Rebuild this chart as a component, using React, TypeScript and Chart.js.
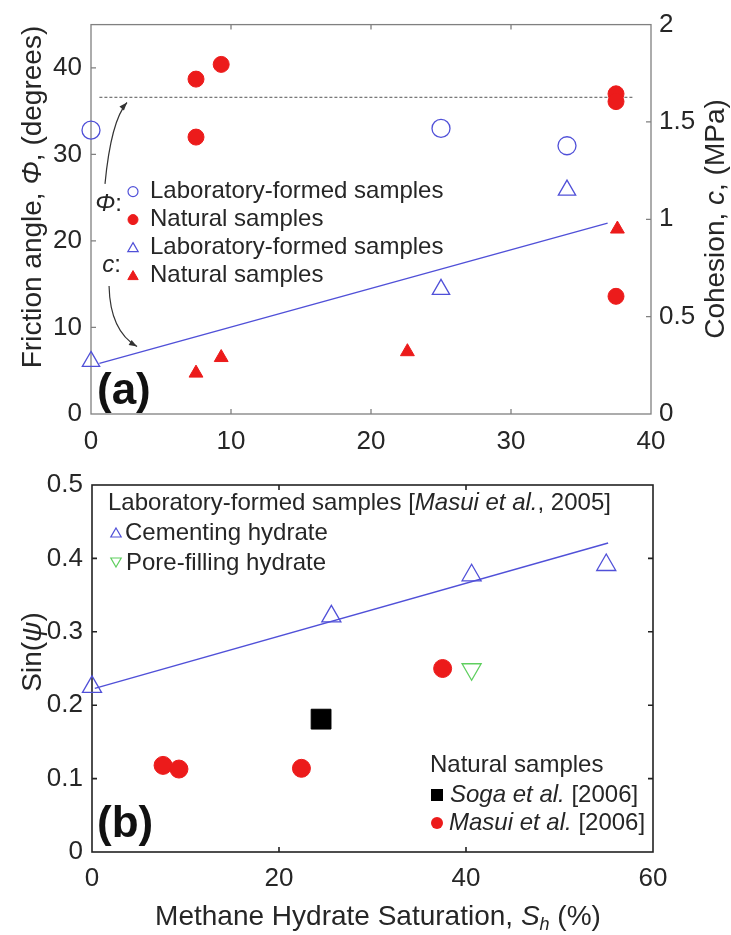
import React, { useEffect, useRef } from 'react';
import { Chart, registerables } from 'chart.js';

Chart.register(...registerables);

// ---------------- Panel (a) data ----------------
const A_X_TICKS = [0, 10, 20, 30, 40];
const A_X_LABELS = ['0', '10', '20', '30', '40'];
const A_PHI_TICKS = [0, 10, 20, 30, 40];
const A_PHI_LABELS = ['0', '10', '20', '30', '40'];
const A_C_TICKS = [0, 0.5, 1, 1.5, 2];
const A_C_LABELS = ['0', '0.5', '1', '1.5', '2'];

const A_PHI_LAB_X = [0, 25, 34];
const A_PHI_LAB_Y = [32.8, 33.0, 31.0];
const A_PHI_NAT_X = [7.5, 9.3, 7.5, 37.5, 37.5, 37.5];
const A_PHI_NAT_Y = [38.7, 40.4, 32.0, 37.0, 36.1, 13.6];
const A_C_LAB_X = [0, 25, 34];
const A_C_LAB_Y = [0.27, 0.64, 1.15];
const A_C_NAT_X = [7.5, 9.3, 22.6, 37.6];
const A_C_NAT_Y = [0.21, 0.29, 0.32, 0.95];
const A_PHI_REF_X = [0.6, 38.7];
const A_PHI_REF_Y = [36.6, 36.6];
const A_C_FIT_X = [0.6, 36.9];
const A_C_FIT_Y = [0.26, 0.98];

// ---------------- Panel (b) data ----------------
const B_X_TICKS = [0, 20, 40, 60];
const B_X_LABELS = ['0', '20', '40', '60'];
const B_Y_TICKS = [0, 0.1, 0.2, 0.3, 0.4, 0.5];
const B_Y_LABELS = ['0', '0.1', '0.2', '0.3', '0.4', '0.5'];

const B_CEM_X = [0, 25.6, 40.6, 55];
const B_CEM_Y = [0.225, 0.321, 0.377, 0.391];
const B_FIT_X = [0.3, 55.2];
const B_FIT_Y = [0.223, 0.421];
const B_PORE_X = [40.6];
const B_PORE_Y = [0.249];
const B_SOGA_X = [24.5];
const B_SOGA_Y = [0.181];
const B_MASUI_X = [7.6, 9.3, 22.4, 37.5];
const B_MASUI_Y = [0.118, 0.113, 0.114, 0.25];

// ---------------- styles ----------------
const FONT = '"Liberation Sans", Arial, Helvetica, sans-serif';
const BLUE = '#5050d8';
const RED = '#ec1b1b';
const GREEN = '#5fcf5f';
const TXT = '#262626';

const pts = (xs: number[], ys: number[]) => xs.map((x, i) => ({ x, y: ys[i] }));

type Part = { t: string; it?: boolean; bold?: boolean; sub?: boolean };

function partFont(p: Part, size: number) {
  const s = p.sub ? Math.round(size * 0.65) : size;
  return `${p.it ? 'italic ' : ''}${p.bold ? 'bold ' : ''}${s}px ${FONT}`;
}

function drawRich(ctx: CanvasRenderingContext2D, parts: Part[], x: number, y: number, size: number, align: 'left' | 'center' | 'right', color = TXT) {
  ctx.save();
  ctx.textBaseline = 'middle';
  ctx.textAlign = 'left';
  ctx.fillStyle = color;
  const widths = parts.map((p) => {
    ctx.font = partFont(p, size);
    return ctx.measureText(p.t).width;
  });
  const total = widths.reduce((a, b) => a + b, 0);
  let cx = align === 'left' ? x : align === 'center' ? x - total / 2 : x - total;
  parts.forEach((p, i) => {
    ctx.font = partFont(p, size);
    ctx.fillText(p.t, cx, p.sub ? y + size * 0.3 : y);
    cx += widths[i];
  });
  ctx.restore();
}

function drawRotated(ctx: CanvasRenderingContext2D, parts: Part[], x: number, y: number, size: number) {
  ctx.save();
  ctx.translate(x, y);
  ctx.rotate(-Math.PI / 2);
  drawRich(ctx, parts, 0, 0, size, 'center');
  ctx.restore();
}

function marker(ctx: CanvasRenderingContext2D, kind: string, x: number, y: number, r: number, fill: string | null, stroke: string | null, lw = 1.2) {
  ctx.save();
  ctx.beginPath();
  if (kind === 'circle') ctx.arc(x, y, r, 0, Math.PI * 2);
  else if (kind === 'tri' || kind === 'triDown') {
    const s = kind === 'tri' ? 1 : -1;
    for (let k = 0; k < 3; k++) {
      const ang = (k * 2 * Math.PI) / 3;
      const px = x + Math.sin(ang) * r;
      const py = y - s * Math.cos(ang) * r;
      if (k) ctx.lineTo(px, py);
      else ctx.moveTo(px, py);
    }
    ctx.closePath();
  } else if (kind === 'square') ctx.rect(x - r, y - r, 2 * r, 2 * r);
  if (fill) {
    ctx.fillStyle = fill;
    ctx.fill();
  }
  if (stroke) {
    ctx.strokeStyle = stroke;
    ctx.lineWidth = lw;
    ctx.stroke();
  }
  ctx.restore();
}

function drawFrame(chart: any, color: string, lw: number, xIn: number[], leftId: string, leftIn: number[], rightId: string, rightIn: number[], len: number) {
  const { ctx, chartArea: a } = chart;
  ctx.save();
  ctx.strokeStyle = color;
  ctx.lineWidth = lw;
  ctx.strokeRect(a.left, a.top, a.right - a.left, a.bottom - a.top);
  ctx.beginPath();
  xIn.forEach((v) => {
    const px = chart.scales.x.getPixelForValue(v);
    ctx.moveTo(px, a.bottom);
    ctx.lineTo(px, a.bottom - len);
    ctx.moveTo(px, a.top);
    ctx.lineTo(px, a.top + len);
  });
  leftIn.forEach((v) => {
    const py = chart.scales[leftId].getPixelForValue(v);
    ctx.moveTo(a.left, py);
    ctx.lineTo(a.left + len, py);
  });
  rightIn.forEach((v) => {
    const py = chart.scales[rightId].getPixelForValue(v);
    ctx.moveTo(a.right, py);
    ctx.lineTo(a.right - len, py);
  });
  ctx.stroke();
  ctx.restore();
}

function arrow(ctx: CanvasRenderingContext2D, p0: number[], c: number[], p1: number[]) {
  ctx.save();
  ctx.strokeStyle = '#333';
  ctx.fillStyle = '#333';
  ctx.lineWidth = 1.2;
  ctx.beginPath();
  ctx.moveTo(p0[0], p0[1]);
  ctx.quadraticCurveTo(c[0], c[1], p1[0], p1[1]);
  ctx.stroke();
  const ang = Math.atan2(p1[1] - c[1], p1[0] - c[0]);
  const L = 8;
  const W = 3;
  ctx.beginPath();
  ctx.moveTo(p1[0], p1[1]);
  ctx.lineTo(p1[0] - L * Math.cos(ang) + W * Math.sin(ang), p1[1] - L * Math.sin(ang) - W * Math.cos(ang));
  ctx.lineTo(p1[0] - L * Math.cos(ang) - W * Math.sin(ang), p1[1] - L * Math.sin(ang) + W * Math.cos(ang));
  ctx.closePath();
  ctx.fill();
  ctx.restore();
}

const inner = (arr: number[]) => arr.slice(1, -1);

const tickFont = { size: 26, family: FONT };

function configA(): any {
  const plugin = {
    id: 'panelA',
    beforeDatasetsDraw(chart: any) {
      drawFrame(chart, '#808080', 1.3, inner(A_X_TICKS), 'y', A_PHI_TICKS.slice(1), 'y2', inner(A_C_TICKS), 5);
    },
    afterDraw(chart: any) {
      const { ctx, chartArea: a } = chart;
      const sx = chart.scales.x;
      const sy = chart.scales.y;
      const P = (x: number, y: number) => [sx.getPixelForValue(x), sy.getPixelForValue(y)];
      // arrows
      arrow(ctx, P(1.0, 26.6), P(1.43, 33.9), P(2.57, 36.0));
      arrow(ctx, P(1.29, 14.8), P(1.36, 9.6), P(3.29, 7.8));
      // legend
      const mx = a.left + 42;
      const tx = a.left + 59;
      const rows = [167, 195, 223, 251].map((d) => a.top + d);
      marker(ctx, 'circle', mx, rows[0], 5, null, BLUE, 1.2);
      marker(ctx, 'circle', mx, rows[1], 5, RED, RED, 1);
      marker(ctx, 'tri', mx, rows[2] + 1, 6, null, BLUE, 1.2);
      marker(ctx, 'tri', mx, rows[3] + 1, 6, RED, RED, 1);
      drawRich(ctx, [{ t: 'Laboratory-formed samples' }], tx, rows[0], 24, 'left');
      drawRich(ctx, [{ t: 'Natural samples' }], tx, rows[1], 24, 'left');
      drawRich(ctx, [{ t: 'Laboratory-formed samples' }], tx, rows[2], 24, 'left');
      drawRich(ctx, [{ t: 'Natural samples' }], tx, rows[3], 24, 'left');
      drawRich(ctx, [{ t: 'Φ', it: true }, { t: ':' }], a.left + 31, a.top + 180, 24, 'right');
      drawRich(ctx, [{ t: 'c', it: true }, { t: ':' }], a.left + 30, a.top + 241, 24, 'right');
      // panel tag
      drawRich(ctx, [{ t: '(a)', bold: true }], a.left + 6, a.top + 367, 44, 'left', '#111');
      // axis titles
      drawRotated(ctx, [{ t: 'Friction angle, ' }, { t: 'Φ', it: true }, { t: ', (degrees)' }], 33, 197, 28);
      drawRotated(ctx, [{ t: 'Cohesion, ' }, { t: 'c', it: true }, { t: ', (MPa)' }], 716, 219, 28);
    },
  };
  return {
    type: 'scatter',
    data: {
      datasets: [
        { label: 'Φ lab', data: pts(A_PHI_LAB_X, A_PHI_LAB_Y), yAxisID: 'y', pointStyle: 'circle', pointRadius: 9, pointBackgroundColor: 'rgba(0,0,0,0)', pointBorderColor: BLUE, pointBorderWidth: 1.3, clip: false },
        { label: 'Φ natural', data: pts(A_PHI_NAT_X, A_PHI_NAT_Y), yAxisID: 'y', pointStyle: 'circle', pointRadius: 8, pointBackgroundColor: RED, pointBorderColor: RED, pointBorderWidth: 1, clip: false },
        { label: 'c lab', data: pts(A_C_LAB_X, A_C_LAB_Y), yAxisID: 'y2', pointStyle: 'triangle', pointRadius: 10, pointBackgroundColor: 'rgba(0,0,0,0)', pointBorderColor: BLUE, pointBorderWidth: 1.3, clip: false },
        { label: 'c natural', data: pts(A_C_NAT_X, A_C_NAT_Y), yAxisID: 'y2', pointStyle: 'triangle', pointRadius: 8, pointBackgroundColor: RED, pointBorderColor: RED, pointBorderWidth: 1, clip: false },
        { label: 'Φ ref', data: pts(A_PHI_REF_X, A_PHI_REF_Y), yAxisID: 'y', showLine: true, pointRadius: 0, borderColor: '#555', borderWidth: 1, borderDash: [3, 2], clip: false },
        { label: 'c fit', data: pts(A_C_FIT_X, A_C_FIT_Y), yAxisID: 'y2', showLine: true, pointRadius: 0, borderColor: BLUE, borderWidth: 1.4, clip: false },
      ],
    },
    options: {
      responsive: false,
      animation: false,
      devicePixelRatio: 1,
      layout: { padding: { top: 21, left: 0, right: 0, bottom: 0 } },
      plugins: { legend: { display: false }, tooltip: { enabled: false } },
      scales: {
        x: {
          type: 'linear', position: 'bottom', min: 0, max: 40,
          grid: { display: false, drawTicks: false }, border: { display: false },
          ticks: { font: tickFont, color: TXT, padding: 12, maxRotation: 0, callback: (_v: any, i: number) => A_X_LABELS[i] },
          afterBuildTicks: (s: any) => { s.ticks = A_X_TICKS.map((value) => ({ value })); },
          afterFit: (s: any) => { s.height = 46; },
        },
        y: {
          type: 'linear', position: 'left', min: 0, max: 45,
          grid: { display: false, drawTicks: false }, border: { display: false },
          ticks: { font: tickFont, color: TXT, padding: 9, callback: (_v: any, i: number) => A_PHI_LABELS[i] },
          afterBuildTicks: (s: any) => { s.ticks = A_PHI_TICKS.map((value) => ({ value })); },
          afterFit: (s: any) => { s.width = 91; },
        },
        y2: {
          type: 'linear', position: 'right', min: 0, max: 2,
          grid: { display: false, drawTicks: false }, border: { display: false },
          ticks: { font: tickFont, color: TXT, padding: 8, callback: (_v: any, i: number) => A_C_LABELS[i] },
          afterBuildTicks: (s: any) => { s.ticks = A_C_TICKS.map((value) => ({ value })); },
          afterFit: (s: any) => { s.width = 80; },
        },
      },
    },
    plugins: [plugin],
  };
}

function configB(): any {
  const plugin = {
    id: 'panelB',
    beforeDatasetsDraw(chart: any) {
      drawFrame(chart, '#222', 1.6, inner(B_X_TICKS), 'y', inner(B_Y_TICKS), 'y', inner(B_Y_TICKS), 5);
    },
    afterDraw(chart: any) {
      const { ctx, chartArea: a } = chart;
      // lab legend
      drawRich(ctx, [{ t: 'Laboratory-formed samples [' }, { t: 'Masui et al.', it: true }, { t: ', 2005]' }], a.left + 16, a.top + 18, 24, 'left');
      marker(ctx, 'tri', a.left + 24, a.top + 49, 6, null, BLUE, 1.2);
      drawRich(ctx, [{ t: 'Cementing hydrate' }], a.left + 33, a.top + 48, 24, 'left');
      marker(ctx, 'triDown', a.left + 24, a.top + 76, 6, null, GREEN, 1.2);
      drawRich(ctx, [{ t: 'Pore-filling hydrate' }], a.left + 34, a.top + 78, 24, 'left');
      // natural legend
      drawRich(ctx, [{ t: 'Natural samples' }], a.left + 338, a.top + 280, 24, 'left');
      marker(ctx, 'square', a.left + 345, a.top + 310, 6, '#000', null);
      drawRich(ctx, [{ t: 'Soga et al.', it: true }, { t: ' [2006]' }], a.left + 358, a.top + 310, 24, 'left');
      marker(ctx, 'circle', a.left + 345, a.top + 338, 6, RED, null);
      drawRich(ctx, [{ t: 'Masui et al.', it: true }, { t: ' [2006]' }], a.left + 357, a.top + 338, 24, 'left');
      // panel tag
      drawRich(ctx, [{ t: '(b)', bold: true }], a.left + 5, a.top + 340, 44, 'left', '#111');
      // axis titles
      drawRotated(ctx, [{ t: 'Sin(' }, { t: 'ψ', it: true }, { t: ')' }], 33, 192, 28);
      drawRich(ctx, [{ t: 'Methane Hydrate Saturation, ' }, { t: 'S', it: true }, { t: 'h', it: true, sub: true }, { t: ' (%)' }], 378, 457, 28, 'center');
    },
  };
  return {
    type: 'scatter',
    data: {
      datasets: [
        { label: 'Cementing', data: pts(B_CEM_X, B_CEM_Y), pointStyle: 'triangle', pointRadius: 11, pointBackgroundColor: 'rgba(0,0,0,0)', pointBorderColor: BLUE, pointBorderWidth: 1.3, clip: false },
        { label: 'Pore-filling', data: pts(B_PORE_X, B_PORE_Y), pointStyle: 'triangle', pointRotation: 180, pointRadius: 11, pointBackgroundColor: 'rgba(0,0,0,0)', pointBorderColor: GREEN, pointBorderWidth: 1.3, clip: false },
        { label: 'Soga', data: pts(B_SOGA_X, B_SOGA_Y), pointStyle: 'rect', pointRadius: 14, pointBackgroundColor: '#000', pointBorderColor: '#000', pointBorderWidth: 1, clip: false },
        { label: 'Masui 2006', data: pts(B_MASUI_X, B_MASUI_Y), pointStyle: 'circle', pointRadius: 9, pointBackgroundColor: RED, pointBorderColor: RED, pointBorderWidth: 1, clip: false },
        { label: 'fit', data: pts(B_FIT_X, B_FIT_Y), showLine: true, pointRadius: 0, borderColor: BLUE, borderWidth: 1.4, clip: false },
      ],
    },
    options: {
      responsive: false,
      animation: false,
      devicePixelRatio: 1,
      layout: { padding: { top: 25, left: 0, right: 78, bottom: 0 } },
      plugins: { legend: { display: false }, tooltip: { enabled: false } },
      scales: {
        x: {
          type: 'linear', position: 'bottom', min: 0, max: 60,
          grid: { display: false, drawTicks: false }, border: { display: false },
          ticks: { font: tickFont, color: TXT, padding: 11, maxRotation: 0, callback: (_v: any, i: number) => B_X_LABELS[i] },
          afterBuildTicks: (s: any) => { s.ticks = B_X_TICKS.map((value) => ({ value })); },
          afterFit: (s: any) => { s.height = 83; },
        },
        y: {
          type: 'linear', position: 'left', min: 0, max: 0.5,
          grid: { display: false, drawTicks: false }, border: { display: false },
          ticks: { font: tickFont, color: TXT, padding: 9, callback: (_v: any, i: number) => B_Y_LABELS[i] },
          afterBuildTicks: (s: any) => { s.ticks = B_Y_TICKS.map((value) => ({ value })); },
          afterFit: (s: any) => { s.width = 92; },
        },
      },
    },
    plugins: [plugin],
  };
}

export default function App() {
  const refA = useRef<HTMLCanvasElement>(null);
  const refB = useRef<HTMLCanvasElement>(null);
  useEffect(() => {
    const a = new Chart(refA.current as HTMLCanvasElement, configA());
    const b = new Chart(refB.current as HTMLCanvasElement, configB());
    return () => {
      a.destroy();
      b.destroy();
    };
  }, []);
  return (
    <div style={{ position: 'absolute', left: 0, top: 0, width: 731, height: 935, background: '#fff' }}>
      <canvas ref={refA} width={731} height={460} style={{ position: 'absolute', left: 0, top: 0, width: 731, height: 460 }} />
      <canvas ref={refB} width={731} height={475} style={{ position: 'absolute', left: 0, top: 460, width: 731, height: 475 }} />
    </div>
  );
}
